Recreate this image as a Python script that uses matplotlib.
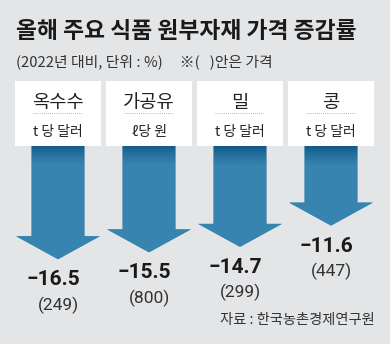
import numpy as np
import matplotlib.pyplot as plt
from matplotlib.patches import Polygon, Rectangle
from matplotlib.colors import to_rgb

# data
items = ['옥수수', '가공유', '밀', '콩']
units = ['t 당 달러', 'ℓ당 원', 't 당 달러', 't 당 달러']
changes = [-16.5, -15.5, -14.7, -11.6]    # % vs 2022
prices = [249, 800, 299, 447]

title = '올해 주요 식품 원부자재 가격 증감률'
subtitle = '(2022년 대비, 단위 : %)     ※(   )안은 가격'
source = '자료 : 한국농촌경제연구원'

kr = ['Noto Sans CJK KR', 'DejaVu Sans']
num = ['Roboto', 'DejaVu Sans']
bg = '#e4e5e7'
dark = np.array(to_rgb('#0f5886'))
light = np.array(to_rgb('#3884b0'))

fig = plt.figure(figsize=(3.9, 3.44), dpi=100)
fig.patch.set_facecolor(bg)

# axes for arrows: x = item index, y = change (%)
ax = fig.add_axes([12.5/390, 1 - 269.5/344, 364/390, 123.5/344])
ax.set_xlim(-0.5, 3.5)
ax.set_ylim(-18, 0)
ax.axis('off')

shaft = 0.29     # half width of shaft
head = 0.46      # half width of head
head_len = 3.35

for i, (name, unit, v, p) in enumerate(zip(items, units, changes, prices)):
    c = i
    # label box above the arrow
    ax.add_patch(Rectangle((c - 0.478, 0), 0.956, 9.5, facecolor='white',
                           edgecolor='none', clip_on=False, zorder=1))
    ax.text(c, 6.4, name, ha='center', va='center', fontsize=13.5,
            family=kr, weight='light', color='#222222', clip_on=False)
    ax.plot([c - 0.28, c + 0.28], [4.8, 4.8], ls=(0, (1, 1.5)), lw=0.6,
            color='#999999', clip_on=False)
    ax.text(c, 2.0, unit, ha='center', va='center', fontsize=10,
            family=kr, color='#222222', clip_on=False)

    # arrow
    verts = [(c - shaft, 0), (c + shaft, 0), (c + shaft, v + head_len),
             (c + head, v + head_len), (c, v), (c - head, v + head_len),
             (c - shaft, v + head_len)]
    poly = Polygon(verts, closed=True, facecolor=light, edgecolor='none', zorder=2)
    ax.add_patch(poly)
    yy = np.linspace(0, v, 200)
    t = np.clip(-yy / 2.8, 0, 1) ** 0.8
    grad = dark[None, :] * (1 - t[:, None]) + light[None, :] * t[:, None]
    img = ax.imshow(grad[:, None, :], extent=(c - head, c + head, v, 0),
                    aspect='auto', origin='upper', zorder=3)
    img.set_clip_path(poly)

    # values
    ax.text(c - 0.05, v - 3.0, f'{v:.1f}'.replace('-', '−'), ha='center',
            va='center', fontsize=15, weight='bold', family=num,
            color='#1a1a1a', clip_on=False)
    ax.text(c, v - 6.7, f'({p})', ha='center', va='center', fontsize=12.5,
            family=num, color='#333333', clip_on=False)

ax.set_xlim(-0.5, 3.5)
ax.set_ylim(-18, 0)

fig.text(16/390, 1 - 31/344, title, ha='left', va='center', fontsize=16.4,
         weight='bold', family=kr, color='#1a1a1a')
fig.text(16/390, 1 - 62/344, subtitle, ha='left', va='center', fontsize=10.7,
         family=kr, color='#333333')
fig.text(375/390, 1 - 320/344, source, ha='right', va='center', fontsize=10.3,
         family=kr, color='#333333')

fig.savefig('out.png', dpi=100, facecolor=bg)
